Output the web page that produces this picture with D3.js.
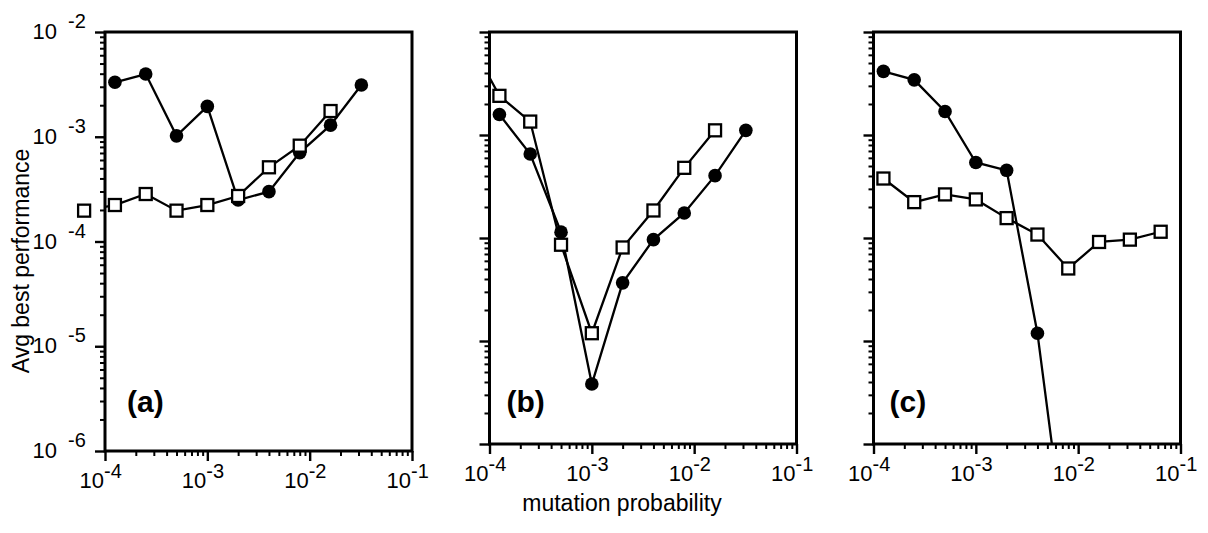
<!DOCTYPE html>
<html>
<head>
<meta charset="utf-8">
<script src="https://cdn.jsdelivr.net/npm/d3@7"></script>
<style>
  body { margin: 0; background: #fff; }
  svg { display: block; font-family: "Liberation Sans", Arial, Helvetica, sans-serif; }
</style>
</head>
<body>
<svg width="1208" height="533"></svg>
<script>
// mutation probabilities of the runs (every series is aligned to these)
const rates = [6.25e-5, 1.25e-4, 2.5e-4, 5e-4, 1e-3, 2e-3, 4e-3, 8e-3, 1.6e-2, 3.2e-2, 6.4e-2];

// panel (a)
const aCircles = [null, 3.31e-3, 3.97e-3, 1.02e-3, 1.95e-3, 2.49e-4, 2.99e-4, 7.05e-4, 1.29e-3, 3.12e-3, null];
const aSquares = [1.97e-4, 2.23e-4, 2.84e-4, 1.97e-4, 2.23e-4, 2.72e-4, 5.11e-4, 8.22e-4, 1.76e-3, null, null];

// panel (b)
const bCircles = [null, 1.58e-3, 6.54e-4, 1.14e-4, 3.82e-6, 3.67e-5, 9.64e-5, 1.75e-4, 4.03e-4, 1.11e-3, null];
const bSquares = [8.5e-3, 2.40e-3, 1.35e-3, 8.6e-5, 1.19e-5, 8.09e-5, 1.85e-4, 4.8e-4, 1.11e-3, null, null];

// panel (c)
const cCircles = [null, 4.15e-3, 3.43e-3, 1.69e-3, 5.41e-4, 4.54e-4, 1.19e-5, 6e-8, null, null, null];
const cSquares = [null, 3.78e-4, 2.23e-4, 2.65e-4, 2.37e-4, 1.56e-4, 1.08e-4, 5.06e-5, 9.15e-5, 9.64e-5, 1.15e-4];

// ticks
const xTicks = [1e-4, 1e-3, 1e-2, 1e-1];
const xTickExp = ["-4", "-3", "-2", "-1"];
const yTicks = [1e-2, 1e-3, 1e-4, 1e-5, 1e-6];
const yTickExp = ["-2", "-3", "-4", "-5", "-6"];

const panelNames = ["(a)", "(b)", "(c)"];
const xTitle = "mutation probability";
const yTitle = "Avg best performance";

// plot boxes on the page
const boxes = [
    {x: 105,   y: 32, w: 307, h: 419, clipMarks: false, yLabels: true,  lx: 22},
    {x: 489.5, y: 32, w: 307, h: 412, clipMarks: true,  yLabels: false, lx: 17},
    {x: 873.5, y: 32, w: 307, h: 412, clipMarks: true,  yLabels: false, lx: 16}
];

function minorTicks(decades) {
    let res = [];
    for (let d of decades) {
        for (let k = 2; k <= 9; k++) res.push(k * Math.pow(10, d));
    }
    return res;
}

function drawPanel(svg, box, idx, circles, squares) {
    const x = d3.scaleLog().domain([1e-4, 1e-1]).range([box.x, box.x + box.w]);
    const y = d3.scaleLog().domain([1e-6, 1e-2]).range([box.y + box.h, box.y]);
    const bottom = box.y + box.h;

    const clipId = "clip" + idx;
    svg.append("clipPath").attr("id", clipId)
        .append("rect")
        .attr("x", box.x).attr("y", box.y)
        .attr("width", box.w).attr("height", box.h);

    // ticks: major and minor, outside of the box
    const g = svg.append("g");
    const axes = [
        [d3.axisBottom(x).tickValues(xTicks).tickSize(10), `translate(0,${bottom})`, 2.4],
        [d3.axisBottom(x).tickValues(minorTicks([-4, -3, -2])).tickSize(5), `translate(0,${bottom})`, 2],
        [d3.axisLeft(y).tickValues(yTicks).tickSize(10), `translate(${box.x},0)`, 2.4],
        [d3.axisLeft(y).tickValues(minorTicks([-6, -5, -4, -3])).tickSize(5), `translate(${box.x},0)`, 2]
    ];
    for (let [axis, tr, sw] of axes) {
        const a = g.append("g")
            .attr("transform", tr)
            .call(axis.tickFormat("").tickSizeOuter(0));
        a.select(".domain").remove();
        a.selectAll(".tick line").attr("stroke", "#000").attr("stroke-width", sw);
    }

    // frame
    svg.append("rect")
        .attr("x", box.x).attr("y", box.y)
        .attr("width", box.w).attr("height", box.h)
        .attr("fill", "none").attr("stroke", "#000").attr("stroke-width", 3);

    // x tick labels 10^n
    xTicks.forEach((t, i) => {
        svg.append("text")
            .attr("x", x(t) - 1).attr("y", bottom + 37)
            .attr("text-anchor", "end")
            .attr("font-size", 22)
            .text("10");
        svg.append("text")
            .attr("x", x(t) - 1).attr("y", bottom + 27)
            .attr("font-size", 20)
            .text(xTickExp[i]);
    });

    if (box.yLabels) {
        yTicks.forEach((t, i) => {
            svg.append("text")
                .attr("x", 57).attr("y", y(t) + 7)
                .attr("text-anchor", "end")
                .attr("font-size", 22)
                .text("10");
            svg.append("text")
                .attr("x", 68).attr("y", y(t) - 4)
                .attr("font-size", 20)
                .text(yTickExp[i]);
        });
    }

    const line = d3.line()
        .defined(d => d.v != null)
        .x(d => x(d.r))
        .y(d => y(d.v));

    const cData = rates.map((r, i) => ({r: r, v: circles[i]}));
    const sData = rates.map((r, i) => ({r: r, v: squares[i]}));

    const lines = svg.append("g").attr("clip-path", `url(#${clipId})`);
    const marks = svg.append("g");
    if (box.clipMarks) marks.attr("clip-path", `url(#${clipId})`);

    // filled circles
    lines.append("path")
        .datum(cData)
        .attr("d", line)
        .attr("fill", "none").attr("stroke", "#000").attr("stroke-width", 2.3);
    marks.selectAll(".dot")
        .data(cData.filter(d => d.v != null))
        .enter()
        .append("circle")
        .attr("cx", d => x(d.r))
        .attr("cy", d => y(d.v))
        .attr("r", 6.8)
        .attr("fill", "#000");

    // open squares
    const s = 12;
    lines.append("path")
        .datum(sData)
        .attr("d", line)
        .attr("fill", "none").attr("stroke", "#000").attr("stroke-width", 2.3);
    marks.selectAll(".sq")
        .data(sData.filter(d => d.v != null))
        .enter()
        .append("rect")
        .attr("x", d => x(d.r) - s / 2)
        .attr("y", d => y(d.v) - s / 2)
        .attr("width", s).attr("height", s)
        .attr("fill", "#fff").attr("stroke", "#000").attr("stroke-width", 2.3);

    // panel letter
    svg.append("text")
        .attr("x", box.x + box.lx).attr("y", box.y + 380)
        .attr("font-size", 30).attr("font-weight", "bold")
        .text(panelNames[idx]);
}

const svg = d3.select("svg");
const series = [[aCircles, aSquares], [bCircles, bSquares], [cCircles, cSquares]];
boxes.forEach((b, i) => drawPanel(svg, b, i, series[i][0], series[i][1]));

// axis titles
svg.append("text")
    .attr("transform", "translate(29,261) rotate(-90)")
    .attr("text-anchor", "middle")
    .attr("font-size", 23)
    .text(yTitle);

svg.append("text")
    .attr("x", 622).attr("y", 511)
    .attr("text-anchor", "middle")
    .attr("font-size", 23)
    .text(xTitle);
</script>
</body>
</html>
